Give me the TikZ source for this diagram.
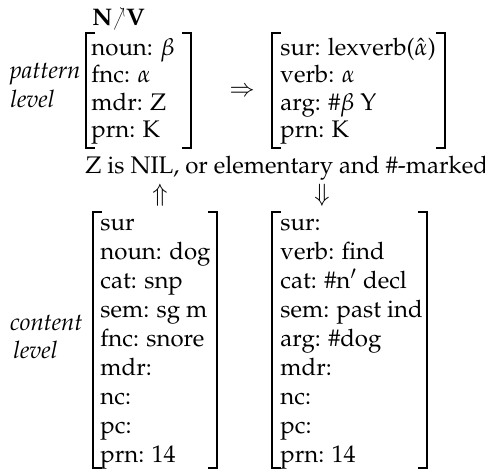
\documentclass[tikz,border=0pt]{standalone}
\usepackage[T1]{fontenc}
\usepackage{mathpazo}
% brackets of an attribute-value matrix: left x, right x, top y, bottom y
\newcommand\avmbrackets[4]{%
  \draw[brk] (#1+9,#3) -- (#1,#3) -- (#1,#4) -- (#1+9,#4);
  \draw[brk] (#2-9,#3) -- (#2,#3) -- (#2,#4) -- (#2-9,#4);}
% narrow north-east arrow of the rule name
\newcommand\ruleArrow{\kern0.5pt\scalebox{0.45}[1]{$\nearrow$}\kern0.5pt}
\begin{document}
\begin{tikzpicture}[x=0.45pt,y=-0.45pt,
  txt/.style={anchor=base west, inner sep=0pt, font=\fontsize{10.8}{13}\selectfont},
  lvl/.style={txt, font=\fontsize{10.8}{13}\selectfont\itshape},
  sym/.style={inner sep=0pt, font=\fontsize{10.8}{13}\selectfont},
  brk/.style={line width=0.9pt, line cap=butt, line join=miter}]
\useasboundingbox (0,0) rectangle (485,470);

% rule name
\node[txt] (rule) at (92,25) {\textbf{N}\ruleArrow\textbf{V}};

% level labels
\node[lvl, anchor=base east] (pat1) at (81,78) {pattern};
\node[lvl] (pat2) at (10,107) {level};
\node[lvl, anchor=base east] (con1) at (83,330) {content};
\node[lvl] (con2) at (13,358) {level};

% pattern level: noun pattern
\avmbrackets{86}{191}{33}{148}
\node[txt] (pn1) at (91,55) {noun: $\beta$};
\node[txt] (pn2) at (91,82) {fnc: $\alpha$};
\node[txt] (pn3) at (91,110) {mdr: Z};
\node[txt] (pn4) at (91,137) {prn: K};

\node[sym] (impl) at (242,92) {$\Rightarrow$};

% pattern level: verb pattern
\avmbrackets{272}{445}{33}{148}
\node[txt] (pv1) at (280,55) {sur: lexverb($\hat{\alpha}$)};
\node[txt] (pv2) at (280,82) {verb: $\alpha$};
\node[txt] (pv3) at (280,110) {arg: \#$\beta$ Y};
\node[txt] (pv4) at (280,137) {prn: K};

% restriction
\node[txt] (cond) at (85,173) {Z is NIL, or elementary and \#-marked};
\node[sym] (up) at (160,195) {$\Uparrow$};
\node[sym] (down) at (322,195) {$\Downarrow$};

% content level: noun proplet
\avmbrackets{93}{217}{212}{468}
\node[txt] (cn1) at (100,230) {sur};
\node[txt] (cn2) at (100,259) {noun: dog};
\node[txt] (cn3) at (100,288) {cat: snp};
\node[txt] (cn4) at (100,317) {sem: sg m};
\node[txt] (cn5) at (100,346) {fnc: snore};
\node[txt] (cn6) at (100,375) {mdr:};
\node[txt] (cn7) at (100,404) {nc:};
\node[txt] (cn8) at (100,433) {pc:};
\node[txt] (cn9) at (100,462) {prn: 14};

% content level: verb proplet
\avmbrackets{272}{427}{212}{468}
\node[txt] (cv1) at (280,230) {sur:};
\node[txt] (cv2) at (280,259) {verb: find};
\node[txt] (cv3) at (280,288) {cat: \#n$'$ decl};
\node[txt] (cv4) at (280,317) {sem: past ind};
\node[txt] (cv5) at (280,346) {arg: \#dog};
\node[txt] (cv6) at (280,375) {mdr:};
\node[txt] (cv7) at (280,404) {nc:};
\node[txt] (cv8) at (280,433) {pc:};
\node[txt] (cv9) at (280,462) {prn: 14};
\end{tikzpicture}
\end{document}
